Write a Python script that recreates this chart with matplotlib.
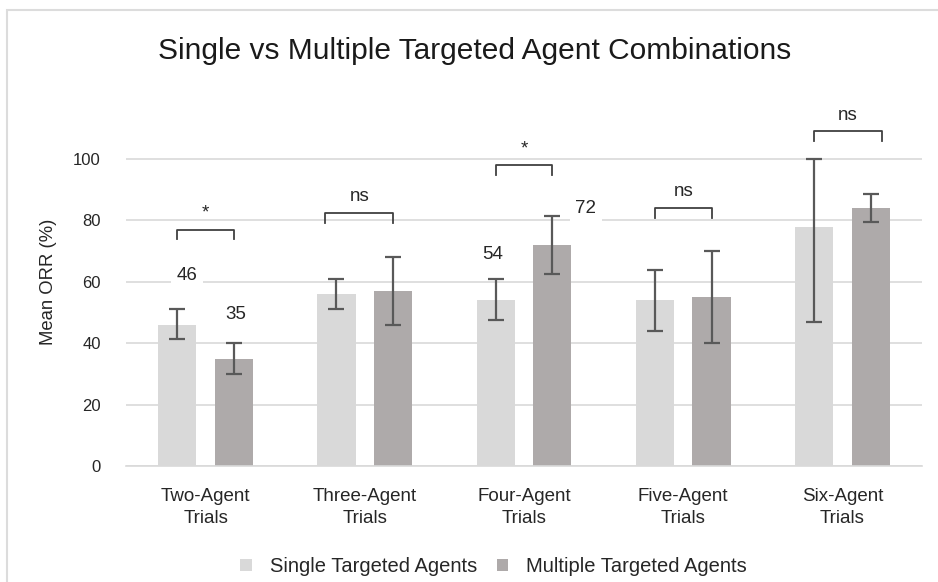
import numpy as np
import matplotlib.pyplot as plt
from matplotlib.patches import Rectangle

plt.rcParams['font.family'] = ['Liberation Sans', 'DejaVu Sans']

categories = ["Two-Agent\nTrials", "Three-Agent\nTrials", "Four-Agent\nTrials",
              "Five-Agent\nTrials", "Six-Agent\nTrials"]
single_orr = [46, 56, 54, 54, 78]
single_lo = [41.5, 51, 47.5, 44, 47]
single_hi = [51, 61, 61, 64, 100]
multi_orr = [35, 57, 72, 55, 84]
multi_lo = [30, 46, 62.5, 40, 79.5]
multi_hi = [40, 68, 81.5, 70, 88.5]
sig_marks = ["*", "ns", "*", "ns", "ns"]
bracket_y = [77, 82.5, 98, 84, 109]
# bar index -> (single label, multiple label) shown above the bars
shown_labels = {0: (46, 35), 2: (54, 72)}

c_single = "#d9d9d9"
c_multi = "#aeaaaa"
c_err = "#595959"

fig = plt.figure(figsize=(9.38, 5.82), dpi=100)
ax = fig.add_axes([0.1343, 0.1993, 0.8487, 0.633])

x = np.arange(len(categories))
w = 0.24
off = 0.178

ax.bar(x - off, single_orr, w, color=c_single, label="Single Targeted Agents", zorder=2)
ax.bar(x + off, multi_orr, w, color=c_multi, label="Multiple Targeted Agents", zorder=2)

s_err = [np.array(single_orr) - np.array(single_lo), np.array(single_hi) - np.array(single_orr)]
m_err = [np.array(multi_orr) - np.array(multi_lo), np.array(multi_hi) - np.array(multi_orr)]
ax.errorbar(x - off, single_orr, yerr=s_err, fmt="none", ecolor=c_err,
            elinewidth=1.6, capsize=6, capthick=1.6, zorder=3)
ax.errorbar(x + off, multi_orr, yerr=m_err, fmt="none", ecolor=c_err,
            elinewidth=1.6, capsize=6, capthick=1.6, zorder=3)

# significance brackets
for i, (mark, yb) in enumerate(zip(sig_marks, bracket_y)):
    x0, x1 = i - off, i + off
    if i == 1:
        x0 -= 0.07
    if i == 4:
        x1 += 0.07
    ax.plot([x0, x0, x1, x1], [yb - 3.2, yb, yb, yb - 3.2], color="#404040", lw=1.3, zorder=4)
    ax.text((x0 + x1) / 2, yb + 2.5, mark, ha="center", va="bottom", fontsize=13.5, color="#262626")

# value labels
lab = dict(ha="center", va="center", fontsize=13.5, color="#262626",
           bbox=dict(fc="white", ec="none", pad=4), zorder=4)
ax.text(0 - off + 0.06, single_hi[0] + 11, str(shown_labels[0][0]), **lab)
ax.text(0 + off + 0.01, multi_hi[0] + 9.5, str(shown_labels[0][1]), **lab)
ax.text(2 - off - 0.02, single_hi[2] + 8, str(shown_labels[2][0]), **lab)
ax.text(2 + off + 0.21, multi_hi[2] + 2.5, str(shown_labels[2][1]), **lab)

ax.set_xlim(-0.5, len(categories) - 0.5)
ax.set_ylim(0, 120)
ax.set_yticks([0, 20, 40, 60, 80, 100])
ax.set_xticks(x)
ax.set_xticklabels(categories, fontsize=13.5, color="#262626", linespacing=1.4)
ax.tick_params(axis="y", length=0, pad=18, labelsize=12, labelcolor="#262626")
ax.tick_params(axis="x", length=0, pad=16)
ax.grid(axis="y", color="#d9d9d9", lw=1.2, zorder=0)
for s in ["top", "right", "left"]:
    ax.spines[s].set_visible(False)
ax.spines["bottom"].set_color("#d9d9d9")
ax.spines["bottom"].set_linewidth(1.2)
ax.set_ylabel("Mean ORR (%)", fontsize=13.3, color="#262626", labelpad=12)

fig.text(0.506, 0.912, "Single vs Multiple Targeted Agent Combinations",
         ha="center", va="center", fontsize=21.5, color="#1a1a1a")

ax.legend(loc="center", bbox_to_anchor=(0.462, -0.272), ncol=2, frameon=False,
          fontsize=14.5, handlelength=0.55, handleheight=0.55, handletextpad=0.9,
          columnspacing=1.0, labelcolor="#262626")

# light frame around the chart area
fig.patches.append(Rectangle((7 / 938, -0.1), 1.2, 1.1 - 10 / 582,
                             transform=fig.transFigure, fill=False,
                             ec="#dcdcdc", lw=1.5))

fig.savefig("out.png", dpi=100)
